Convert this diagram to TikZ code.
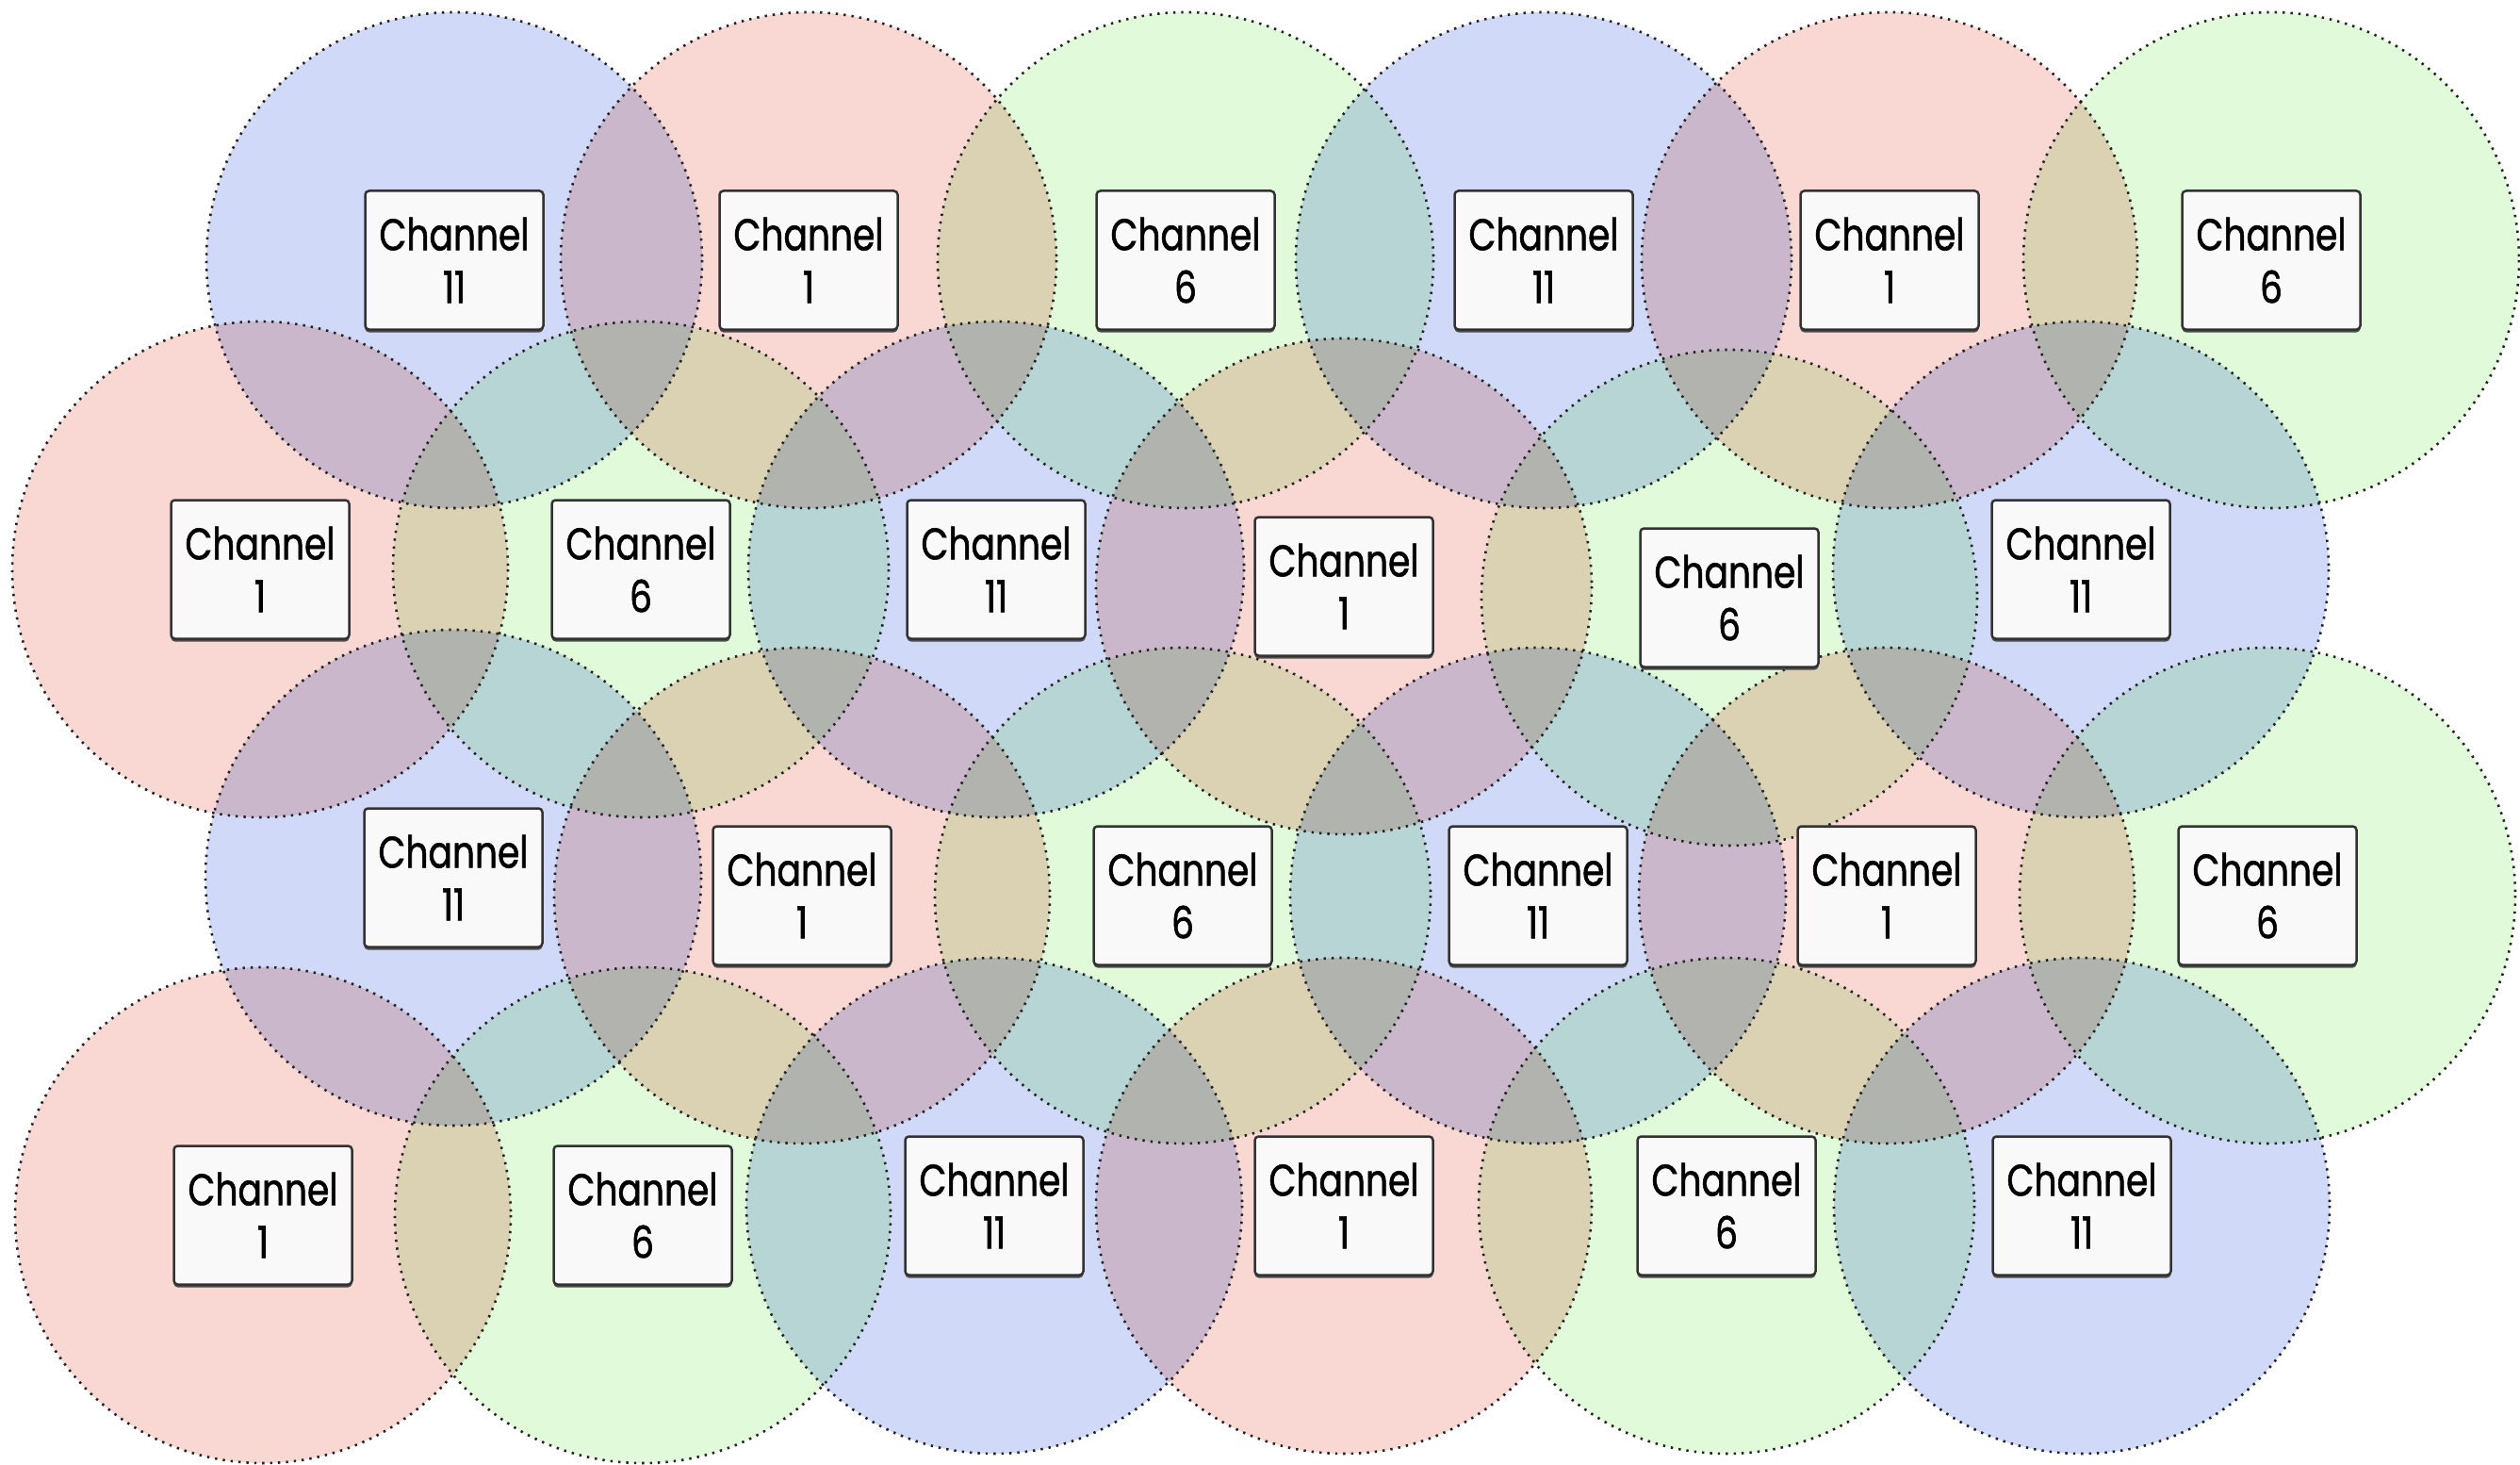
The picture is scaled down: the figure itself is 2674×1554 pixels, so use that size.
\documentclass[tikz,border=0pt]{standalone}
\usepackage{fontspec}
\setmainfont{Poppins}[FakeStretch=0.8,FakeBold=1.2]
\usetikzlibrary{shadows}
\definecolor{cblue}{RGB}{208,218,248}
\definecolor{cred}{RGB}{249,215,210}
\definecolor{cgreen}{RGB}{224,250,218}
\definecolor{dotc}{RGB}{35,35,35}
\definecolor{boxfill}{RGB}{249,249,249}
\definecolor{boxline}{RGB}{50,50,50}
\begin{document}
\begin{tikzpicture}[x=1pt,y=-1pt,
  cell/.style={line width=2.6pt, draw=dotc, dash pattern=on 2.4pt off 6pt},
  chanbox/.style={draw=boxline, line width=2.5pt, fill=boxfill, rounded corners=4pt,
    minimum width=189pt, minimum height=147pt, inner sep=0pt, align=center,
    font=\fontsize{47}{56}\selectfont,
    drop shadow={shadow xshift=0pt, shadow yshift=-3pt, fill=black!70, opacity=1}}]
\useasboundingbox[fill=white] (0,0) rectangle (2674,1554);
\def\cells{482/276/cblue/11, 858/276/cred/1, 1258/276/cgreen/6, 1638/276/cblue/11, 2005/276/cred/1, 2410/276/cgreen/6,
 276/604/cred/1, 680/604/cgreen/6, 1057/604/cblue/11, 1426/622/cred/1, 1835/634/cgreen/6, 2208/604/cblue/11,
 481/931/cblue/11, 851/950/cred/1, 1255/950/cgreen/6, 1632/950/cblue/11, 2002/950/cred/1, 2406/950/cgreen/6,
 279/1289/cred/1, 682/1289/cgreen/6, 1055/1279/cblue/11, 1426/1279/cred/1, 1832/1279/cgreen/6, 2209/1279/cblue/11}
\begin{scope}[blend mode=multiply]
\foreach \x/\y/\c/\n in \cells { \fill[\c] (\x,\y) circle[radius=263]; }
\end{scope}
\foreach \x/\y/\c/\n in \cells { \draw[cell] (\x,\y) circle[radius=263]; }
\foreach \x/\y/\c/\n [count=\i] in \cells { \node[chanbox] (l\i) at (\x,\y) {Channel\\\n}; }
\end{tikzpicture}
\end{document}
